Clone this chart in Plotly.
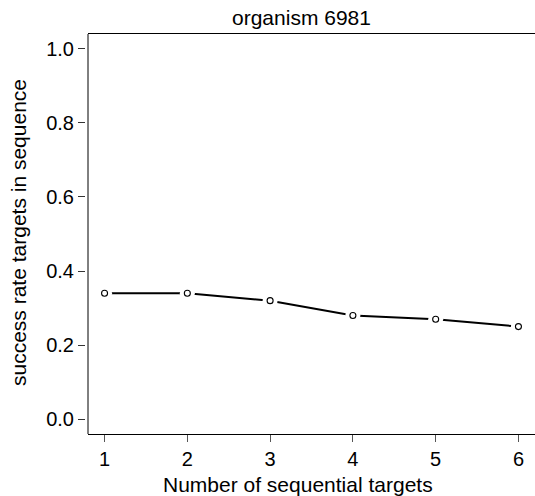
import plotly.graph_objects as go

targets = [1, 2, 3, 4, 5, 6]
success_rate = [0.34, 0.34, 0.32, 0.28, 0.27, 0.25]
x_ticks = [1, 2, 3, 4, 5, 6]
y_ticks = [0.0, 0.2, 0.4, 0.6, 0.8, 1.0]
y_tick_labels = ["0.0", "0.2", "0.4", "0.6", "0.8", "1.0"]
title_text = "organism 6981"
x_label = "Number of sequential targets"
y_label = "success rate targets in sequence"

W, H = 535, 496
L, R, T, B = 78, 0, 34, 62
BOX_L = 88      # left edge of the plotting box (px)
YAX_X = 85      # where the y ticks start (px)
FAM = "Liberation Sans, Arial, Helvetica, sans-serif"
TICKFONT = dict(family=FAM, size=20, color="black")
LABFONT = dict(family=FAM, size=21, color="black")

pw = W - L - R
ph = H - T - B

def px_x(p):
    return (p - L) / pw

def px_y(p):
    return (H - B - p) / ph

fig = go.Figure()
fig.add_trace(go.Scatter(x=targets, y=success_rate, mode="lines",
                         line=dict(color="black", width=2), hoverinfo="skip"))
fig.add_trace(go.Scatter(x=targets, y=success_rate, mode="markers",
                         marker=dict(color="white", size=15, line=dict(width=0)),
                         hoverinfo="skip"))
fig.add_trace(go.Scatter(x=targets, y=success_rate, mode="markers",
                         marker=dict(color="white", size=6, symbol="circle",
                                     line=dict(color="black", width=1.1))))

fig.update_layout(
    width=W, height=H,
    margin=dict(l=L, r=R, t=T, b=B, pad=0),
    paper_bgcolor="white", plot_bgcolor="white",
    showlegend=False,
    font=TICKFONT,
    xaxis=dict(domain=[px_x(BOX_L), 1], range=[0.8, 6.2], tickvals=x_ticks,
               ticktext=[str(v) for v in x_ticks],
               showgrid=False, zeroline=False, showline=True, mirror=True,
               linecolor="black", linewidth=1, ticks="outside", ticklen=7,
               tickcolor="#555", tickwidth=1, tickfont=TICKFONT),
    yaxis=dict(anchor="free", position=px_x(YAX_X), range=[-0.04, 1.04],
               tickvals=y_ticks, ticktext=y_tick_labels,
               showgrid=False, zeroline=False, showline=False,
               ticks="outside", ticklen=7,
               tickcolor="#333", tickwidth=1, tickfont=TICKFONT),
    shapes=[
        dict(type="line", xref="x domain", yref="y domain", x0=0, x1=0, y0=0, y1=1,
             line=dict(color="black", width=1)),
    ],
    annotations=[
        dict(text=title_text, xref="paper", yref="paper", x=px_x(301), y=px_y(17),
             xanchor="center", yanchor="middle", showarrow=False, font=LABFONT),
        dict(text=x_label, xref="paper", yref="paper", x=px_x(298), y=px_y(484),
             xanchor="center", yanchor="middle", showarrow=False, font=LABFONT),
        dict(text=y_label, xref="paper", yref="paper", x=px_x(18), y=px_y(233),
             xanchor="center", yanchor="middle", showarrow=False, textangle=-90,
             font=LABFONT),
    ],
)

fig.write_html("out.html")
